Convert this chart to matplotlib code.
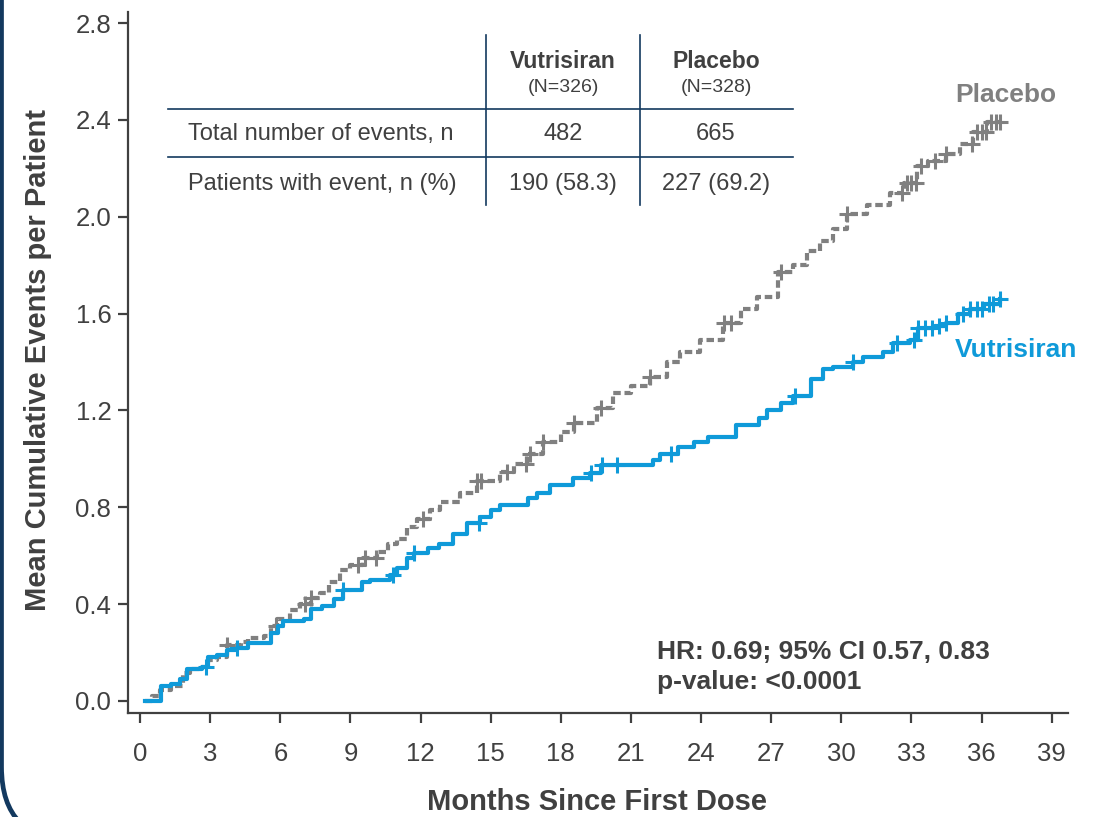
import numpy as np
import matplotlib
matplotlib.use("Agg")
import matplotlib.pyplot as plt
from matplotlib.patches import FancyBboxPatch
from matplotlib.transforms import IdentityTransform

plt.rcParams['font.family'] = ['Liberation Sans', 'DejaVu Sans']

# mean cumulative function, step points (months, events per patient)
pbo_t = [0.2, 0.5, 0.85, 1.3, 1.85, 2.15, 2.55, 2.9, 3.3, 3.7, 4.3, 4.6, 5.3, 5.6, 5.85,
         6.4, 6.85, 7.3, 7.7, 8.1, 8.55, 9.0, 9.55, 10.15, 10.6, 11.0, 11.4, 11.85, 12.4,
         12.85, 13.7, 14.4, 15.4, 16.0, 16.55, 17.25, 18.0, 18.55, 19.55, 20.25, 21.0,
         21.8, 22.55, 23.1, 23.97, 24.95, 25.7, 26.4, 27.3, 27.95, 28.55, 29.1, 29.65,
         30.25, 31.1, 32.1, 32.7, 33.25, 33.7, 34.5, 35.1, 35.65, 36.25, 36.8]
pbo_v = [0.0, 0.02, 0.045, 0.06, 0.115, 0.13, 0.14, 0.17, 0.18, 0.23, 0.245, 0.26, 0.27,
         0.31, 0.34, 0.375, 0.40, 0.425, 0.445, 0.49, 0.54, 0.56, 0.59, 0.615, 0.65, 0.67,
         0.72, 0.75, 0.79, 0.82, 0.86, 0.91, 0.945, 0.98, 1.02, 1.07, 1.11, 1.15, 1.21,
         1.27, 1.30, 1.34, 1.40, 1.44, 1.49, 1.56, 1.62, 1.67, 1.77, 1.80, 1.86, 1.90,
         1.95, 2.01, 2.05, 2.10, 2.14, 2.21, 2.23, 2.26, 2.30, 2.35, 2.39, 2.39]

vut_t = [0.2, 0.9, 1.3, 1.7, 2.0, 2.65, 2.9, 3.3, 3.7, 4.15, 4.6, 5.6, 5.9, 6.1, 7.0, 7.3,
         7.8, 8.3, 8.7, 9.5, 9.85, 10.7, 11.0, 11.4, 11.7, 12.3, 12.8, 13.4, 14.0, 14.55,
         15.0, 15.4, 16.6, 17.0, 17.55, 18.5, 19.25, 19.7, 21.95, 22.25, 23.0, 23.7, 24.3,
         25.5, 26.5, 26.8, 27.4, 27.95, 28.7, 29.2, 29.65, 30.5, 30.95, 31.8, 32.2, 32.95,
         33.3, 34.0, 34.5, 35.0, 35.5, 36.1, 36.8]
vut_v = [0.0, 0.06, 0.07, 0.09, 0.13, 0.14, 0.18, 0.19, 0.21, 0.22, 0.24, 0.28, 0.31, 0.33,
         0.34, 0.38, 0.39, 0.42, 0.46, 0.49, 0.50, 0.52, 0.55, 0.59, 0.61, 0.63, 0.65, 0.69,
         0.735, 0.76, 0.79, 0.81, 0.84, 0.86, 0.89, 0.92, 0.94, 0.975, 0.995, 1.02, 1.05,
         1.07, 1.09, 1.14, 1.17, 1.20, 1.23, 1.26, 1.33, 1.37, 1.38, 1.40, 1.42, 1.44,
         1.48, 1.49, 1.54, 1.55, 1.56, 1.60, 1.62, 1.64, 1.66]

# censoring times
pbo_cens = [3.7, 5.8, 7.05, 7.3, 9.3, 9.6, 10.1, 12.1, 14.4, 14.6, 15.7, 16.5, 16.7, 17.25,
            18.55, 19.7, 21.8, 25.0, 25.3, 27.4, 30.25, 32.6, 32.8, 33.0, 33.2, 33.4, 34.0,
            34.5, 35.6, 35.8, 36.0, 36.2, 36.4, 36.6, 36.8]
vut_cens = [2.8, 4.15, 8.7, 10.8, 11.7, 14.5, 19.3, 19.75, 20.4, 22.7, 28.0, 30.5, 32.4,
            33.1, 33.3, 33.6, 33.9, 34.2, 34.5, 35.2, 35.5, 35.8, 36.0, 36.3, 36.5, 36.8]

table_cols = ["Vutrisiran", "Placebo"]
table_n = ["(N=326)", "(N=328)"]
table_rows = ["Total number of events, n", "Patients with event, n (%)"]
table_vals = [["482", "665"], ["190 (58.3)", "227 (69.2)"]]
stats_text = "HR: 0.69; 95% CI 0.57, 0.83\np-value: <0.0001"

BLUE = "#0f9ad9"
GRAY = "#808080"
DARK = "#404040"
NAVY = "#13395f"

W, H = 1099, 817
fig = plt.figure(figsize=(W / 100, H / 100), dpi=100)
ax = fig.add_axes([128 / W, 1 - 713 / H, (1068 - 128) / W, (713 - 12) / H])


def px(x, y):
    return x / W, 1 - y / H


def at(times, values, c):
    i = np.searchsorted(times, c, side="right") - 1
    return values[max(i, 0)]


ax.plot(pbo_t, pbo_v, drawstyle="steps-post", color=GRAY, lw=3, dashes=(1.8, 0.9),
        solid_capstyle="butt", zorder=2)
ax.plot(vut_t, vut_v, drawstyle="steps-post", color=BLUE, lw=3, zorder=3)
ax.plot(pbo_cens, [at(pbo_t, pbo_v, c) for c in pbo_cens], "+", color=GRAY,
        ms=12, mew=2.2, zorder=2)
ax.plot(vut_cens, [at(vut_t, vut_v, c) for c in vut_cens], "+", color=BLUE,
        ms=12, mew=2.2, zorder=3)

ax.set_xlim(-0.52, 39.7)
ax.set_ylim(-0.05, 2.846)
ax.set_xticks(np.arange(0, 40, 3))
ax.set_yticks(np.arange(0, 2.81, 0.4))
ax.set_yticklabels([f"{v:.1f}" for v in np.arange(0, 2.81, 0.4)])
for s in ["top", "right"]:
    ax.spines[s].set_visible(False)
for s in ["left", "bottom"]:
    ax.spines[s].set_color(DARK)
    ax.spines[s].set_linewidth(1.6)
ax.tick_params(axis="both", colors=DARK, width=1.6, length=7, labelsize=18.5)
ax.tick_params(axis="x", pad=14)
ax.tick_params(axis="y", pad=5)

fig.text(*px(597, 802), "Months Since First Dose", ha="center", va="center",
         fontsize=21, fontweight="bold", color=DARK)
fig.text(*px(38, 360), "Mean Cumulative Events per Patient", ha="center", va="center",
         rotation=90, fontsize=21, fontweight="bold", color=DARK)

# summary table
for yy in [109, 157]:
    fig.add_artist(plt.Line2D([168 / W, 793 / W], [1 - yy / H] * 2, color=NAVY, lw=1.2))
for xx in [486, 640]:
    fig.add_artist(plt.Line2D([xx / W] * 2, [1 - 35 / H, 1 - 205 / H], color=NAVY, lw=1.2))
col_x = [563, 716]
for cx, name, n in zip(col_x, table_cols, table_n):
    fig.text(*px(cx, 61), name, ha="center", va="center", fontsize=16.5,
             fontweight="bold", color=DARK)
    fig.text(*px(cx, 88), n, ha="center", va="center", fontsize=14, color=DARK)
for ry, label, vals in zip([134, 184], table_rows, table_vals):
    fig.text(*px(188, ry), label, ha="left", va="center", fontsize=17, color=DARK)
    for cx, v in zip(col_x, vals):
        fig.text(*px(cx, ry), v, ha="center", va="center", fontsize=17, color=DARK)

fig.text(*px(955, 95), "Placebo", ha="left", va="center", fontsize=19,
         fontweight="bold", color=GRAY)
fig.text(*px(955, 350), "Vutrisiran", ha="left", va="center", fontsize=19,
         fontweight="bold", color=BLUE)
fig.text(*px(657, 667), stats_text, ha="left", va="center", fontsize=19,
         fontweight="bold", color=DARK, linespacing=1.3)

# rounded frame edge on the left
frame = FancyBboxPatch((1.5, -24), 3000, 2000, boxstyle="round,pad=0,rounding_size=74",
                       transform=IdentityTransform(), fill=False, edgecolor=NAVY, lw=3.4)
fig.add_artist(frame)

fig.savefig("out.png", dpi=100)
